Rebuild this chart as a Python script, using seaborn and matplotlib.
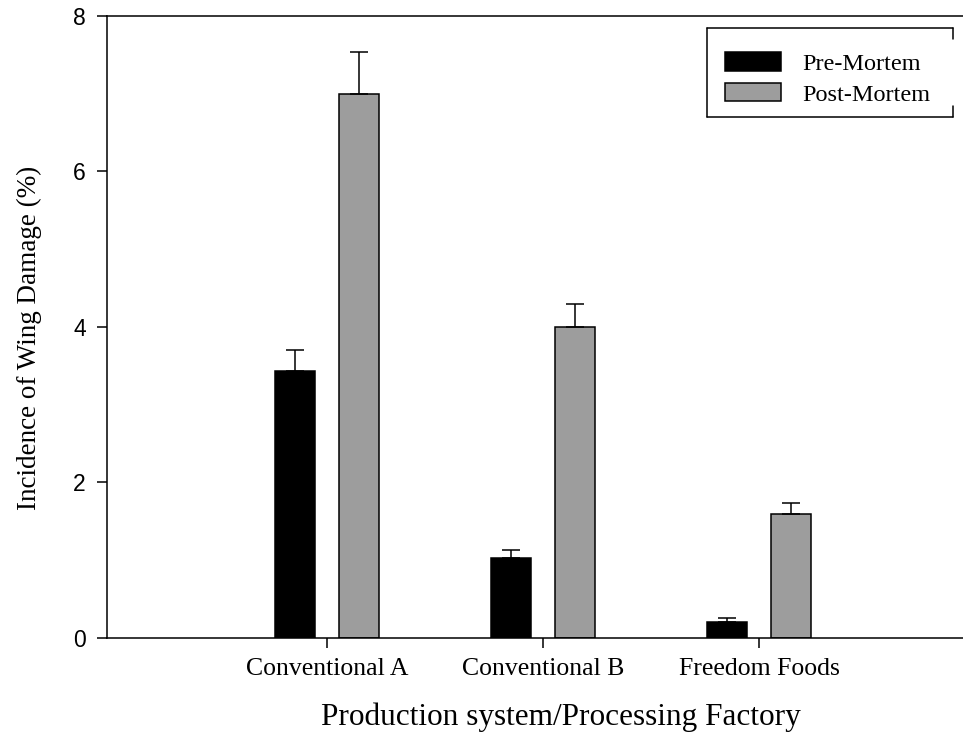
import numpy as np
import pandas as pd
import matplotlib
matplotlib.use("Agg")
import matplotlib.pyplot as plt
from matplotlib.lines import Line2D
import seaborn as sns

# Incidence of wing damage by production system, before and after slaughter
systems = ["Conventional A", "Conventional B", "Freedom Foods"]
stages = ["Pre-Mortem", "Post-Mortem"]
pre_mean = [3.44, 1.03, 0.21]
post_mean = [7.00, 4.00, 1.59]
pre_se = [0.26, 0.10, 0.05]
post_se = [0.54, 0.30, 0.14]
y_ticks = [0, 2, 4, 6, 8]

df = pd.DataFrame({
    "system": systems * 2,
    "stage": [stages[0]] * 3 + [stages[1]] * 3,
    "incidence": pre_mean + post_mean,
})

sns.set_theme(style="white")
plt.rcParams["font.family"] = ["Liberation Serif", "DejaVu Serif"]
for key in ["text.color", "axes.labelcolor", "xtick.color", "ytick.color"]:
    plt.rcParams[key] = "black"

fig = plt.figure(figsize=(9.63, 7.33), dpi=100)
ax = fig.add_axes([0.111, 0.1296, 0.889, 0.8486])

sns.barplot(
    data=df, x="system", y="incidence", hue="stage",
    order=systems, hue_order=stages,
    palette=["#000000", "#9d9d9d"],
    width=0.593, gap=0.375,
    edgecolor="black", linewidth=1.1,
    errorbar=None, ax=ax,
)

# one-sided (upper) standard-error bars on each bar
for cont, means, errs in zip(ax.containers, [pre_mean, post_mean], [pre_se, post_se]):
    xs = [b.get_x() + b.get_width() / 2 for b in cont]
    ax.errorbar(xs, means, yerr=[np.zeros(len(errs)), errs], fmt="none",
                ecolor="black", elinewidth=1.1, capsize=6.8, capthick=1.1, zorder=5)

ax.set_xlim(-1.02, 2.945)
ax.set_ylim(0, 8)
ax.set_yticks(y_ticks)
ax.set_yticklabels([str(t) for t in y_ticks], family=["Liberation Sans", "DejaVu Sans"], fontsize=16.5)
ax.tick_params(axis="y", direction="out", length=7.2, width=1.1, color="black", pad=8, left=True)
ax.tick_params(axis="x", direction="out", length=7.2, width=1.1, color="black", pad=7, bottom=True,
               labelsize=18.5)

for side in ["left", "top", "bottom"]:
    ax.spines[side].set_visible(True)
    ax.spines[side].set_color("black")
    ax.spines[side].set_linewidth(1.1)
ax.spines["right"].set_visible(False)

ax.set_xlabel("Production system/Processing Factory", fontsize=22.5, labelpad=16.5)
ax.xaxis.label.set_x(0.53)
ax.set_ylabel("Incidence of Wing Damage (%)", fontsize=19.5, labelpad=22)
ax.yaxis.label.set_y(0.482)

leg = ax.legend(
    loc="upper left", bbox_to_anchor=(0.722, 0.942),
    fontsize=17.5, frameon=False,
    handlelength=2.3, handleheight=0.8, handletextpad=0.9,
    labelspacing=0.33, borderpad=0, borderaxespad=0,
)

# legend box: closed on three sides, short corner stubs on the right
bx0, bx1, by0, by1 = 0.701, 0.988, 0.8376, 0.9807
stub = 0.017
box_kw = dict(transform=ax.transAxes, color="black", lw=1.1, clip_on=False, zorder=6)
for xs, ys in [
    ([bx0, bx1], [by1, by1]),
    ([bx0, bx1], [by0, by0]),
    ([bx0, bx0], [by0, by1]),
    ([bx1, bx1], [by1 - stub, by1]),
    ([bx1, bx1], [by0, by0 + stub]),
]:
    ax.add_line(Line2D(xs, ys, **box_kw))

fig.savefig("out.png", dpi=100, facecolor="white")
